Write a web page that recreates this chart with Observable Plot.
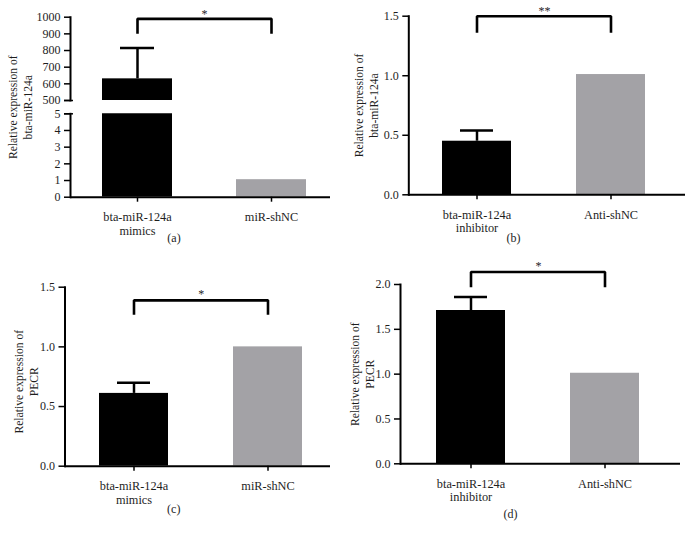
<!DOCTYPE html>
<html>
<head>
<meta charset="utf-8">
<script src="https://cdn.jsdelivr.net/npm/d3@7"></script>
<script src="https://cdn.jsdelivr.net/npm/@observablehq/plot@0.6"></script>
<style>
  html, body { margin: 0; padding: 0; background: #fff; }
  #root { position: relative; width: 686px; height: 536px; overflow: hidden; background: #fff; }
  #root svg { position: absolute; }
</style>
</head>
<body>
<div id="root"></div>
<script>
// ---------- data ----------
const catsMimics = ["bta-miR-124a mimics", "miR-shNC"];
const catsInhibitor = ["bta-miR-124a inhibitor", "Anti-shNC"];
const barColors = ["#000000", "#a3a2a6"];

// (a) bta-miR-124a, mimics vs miR-shNC (broken axis)
const meanA = [630, 1.05];
const errA = [185, 0];
// (b) bta-miR-124a, inhibitor vs Anti-shNC
const meanB = [0.45, 1.01];
const errB = [0.09, 0];
// (c) PECR, mimics vs miR-shNC
const meanC = [0.61, 1.0];
const errC = [0.09, 0];
// (d) PECR, inhibitor vs Anti-shNC
const meanD = [1.71, 1.01];
const errD = [0.15, 0];

const sigLabels = ["*", "**", "*", "*"];
const bracketTop = [990, 1.5, 1.39, 2.14];
const bracketLeg = [900, 1.36, 1.27, 1.97];

const ticksAUpper = [500, 600, 700, 800, 900, 1000];
const ticksALower = [0, 1, 2, 3, 4, 5];
const ticks15 = [0, 0.5, 1.0, 1.5];
const ticks20 = [0, 0.5, 1.0, 1.5, 2.0];

const titleMiR = "Relative expression of\nbta-miR-124a";
const titlePECR = "Relative expression of\nPECR";
const panelLabels = ["(a)", "(b)", "(c)", "(d)"];

// ---------- helpers ----------
const FONT = "Liberation Serif, Times New Roman, serif";
const TXT = "#1e1e1e";
const root = document.getElementById("root");

function makePlot(cfg) {
  const rows = cfg.cats.map((c, i) => ({cat: c, v: cfg.mean[i], e: cfg.err[i]}));
  const withErr = rows.filter(d => d.e > 0);
  const xOpts = {type: "band", domain: cfg.cats, range: cfg.xRange, paddingInner: cfg.pad, paddingOuter: 0, align: 0.5, axis: null};
  const sx = Plot.scale({x: xOpts});
  const halfStep = (sx.apply(cfg.cats[1]) - sx.apply(cfg.cats[0])) / 2;
  const marks = [];
  marks.push(Plot.barY(rows, {x: "cat", y: "v", fill: "cat", clip: true}));
  if (cfg.errors) {
    marks.push(Plot.ruleX(withErr, {x: "cat", y1: "v", y2: d => d.v + d.e, stroke: "#000", strokeWidth: 2.5}));
    marks.push(Plot.tickY(withErr, {x: "cat", y: d => d.v + d.e, stroke: "#000", strokeWidth: 2.5, insetLeft: 18, insetRight: 18}));
  }
  marks.push(Plot.frame({anchor: "left", stroke: "#000", strokeWidth: 2}));
  marks.push(Plot.axisY({ticks: cfg.yTicks, tickFormat: cfg.yFmt, tickSize: 6, tickPadding: 4, fontSize: 12, label: null, stroke: "#000", strokeWidth: 1.5, fill: TXT}));
  if (cfg.breakTick !== undefined) {
    marks.push(Plot.axisY({ticks: [cfg.breakTick], tickFormat: () => "", tickSize: 9, dx: 3, label: null, stroke: "#000", strokeWidth: 1.5}));
  }
  if (cfg.xAxis) {
    marks.push(Plot.ruleY([cfg.yDomain[0]], {stroke: "#000", strokeWidth: 2}));
    marks.push(Plot.axisX({tickSize: 5, tickPadding: 9.5, tickFormat: d => d.replace(" ", "\n"), fontSize: 12.3, lineHeight: 1.1, label: null, stroke: "#000", strokeWidth: 1.5, fill: TXT}));
  }
  if (cfg.sig !== undefined) {
    const c0 = cfg.cats[0], c1 = cfg.cats[1];
    const pts = [
      {x: c0, y: cfg.bLeg}, {x: c0, y: cfg.bTop}, {x: c1, y: cfg.bTop}, {x: c1, y: cfg.bLeg}
    ];
    marks.push(Plot.line(pts, {x: "x", y: "y", stroke: "#000", strokeWidth: 2.6, strokeLinejoin: "miter", strokeLinecap: "butt"}));
    marks.push(Plot.text([cfg.sig], {x: () => c0, y: () => cfg.bTop, text: d => d, dx: halfStep, dy: cfg.sigDy, fontSize: 12, fill: TXT}));
  }
  if (cfg.title) {
    marks.push(Plot.text([cfg.title], {frameAnchor: "left", text: d => d, rotate: -90, textAnchor: "middle", lineAnchor: "middle", lineHeight: 1.3, dx: cfg.titleDx, dy: cfg.titleDy || 0, fontSize: 11.6, fill: TXT}));
  }
  if (cfg.label) {
    marks.push(Plot.text([cfg.label], {frameAnchor: "bottom", text: d => d, lineAnchor: "middle", textAnchor: "middle", dx: cfg.labelDx, dy: cfg.labelDy, fontSize: 12, fill: TXT}));
  }
  const svg = Plot.plot({
    width: cfg.width, height: cfg.height,
    marginLeft: cfg.marginLeft, marginRight: cfg.marginRight,
    marginTop: cfg.marginTop, marginBottom: cfg.marginBottom,
    x: xOpts,
    y: {domain: cfg.yDomain, axis: null},
    color: {domain: cfg.cats, range: barColors},
    style: {background: "transparent", fontFamily: FONT, color: "#000", overflow: "visible"},
    marks
  });
  svg.style.left = cfg.left + "px";
  svg.style.top = cfg.top + "px";
  root.appendChild(svg);
}

const intFmt = d3.format("d");
const oneFmt = d3.format(".1f");

// (a) upper part 500-1000
makePlot({
  left: 0, top: 0, width: 340, height: 110,
  marginLeft: 70, marginRight: 10, marginTop: 16.7, marginBottom: 10,
  xRange: [101.7, 305.7], pad: 0.478,
  cats: catsMimics, mean: meanA, err: errA, errors: true,
  yDomain: [500, 1000], yTicks: ticksAUpper, yFmt: intFmt, breakTick: 500,
  xAxis: false,
  sig: sigLabels[0], bTop: bracketTop[0], bLeg: bracketLeg[0], sigDy: -5
});
// (a) lower part 0-5
makePlot({
  left: 0, top: 0, width: 340, height: 250,
  marginLeft: 70, marginRight: 10, marginTop: 113.3, marginBottom: 53.3,
  xRange: [101.7, 305.7], pad: 0.478,
  cats: catsMimics, mean: meanA, err: errA, errors: false,
  yDomain: [0, 5], yTicks: ticksALower, yFmt: intFmt, breakTick: 5,
  xAxis: true,
  title: titleMiR, titleDx: -50.5, titleDy: -48.3,
  label: panelLabels[0], labelDx: -26.5, labelDy: 41.3
});
// (b)
makePlot({
  left: 340, top: 0, width: 346, height: 250,
  marginLeft: 68.3, marginRight: 1, marginTop: 15.7, marginBottom: 55.7,
  xRange: [101.7, 306], pad: 0.485,
  cats: catsInhibitor, mean: meanB, err: errB, errors: true,
  yDomain: [0, 1.5], yTicks: ticks15, yFmt: oneFmt,
  xAxis: true,
  sig: sigLabels[1], bTop: bracketTop[1], bLeg: bracketLeg[1], sigDy: -5,
  title: titleMiR, titleDx: -43.3, titleDy: 0,
  label: panelLabels[1], labelDx: -33.7, labelDy: 43.7
});
// (c)
makePlot({
  left: 0, top: 270, width: 340, height: 266,
  marginLeft: 64.5, marginRight: 10, marginTop: 16.7, marginBottom: 70.3,
  xRange: [98.3, 302.7], pad: 0.483,
  cats: catsMimics, mean: meanC, err: errC, errors: true,
  yDomain: [0, 1.5], yTicks: ticks15, yFmt: oneFmt,
  xAxis: true,
  sig: sigLabels[2], bTop: bracketTop[2], bLeg: bracketLeg[2], sigDy: -6,
  title: titlePECR, titleDx: -39.5, titleDy: 5,
  label: panelLabels[2], labelDx: -24, labelDy: 42.6
});
// (d)
makePlot({
  left: 340, top: 240, width: 346, height: 296,
  marginLeft: 60, marginRight: 6, marginTop: 44, marginBottom: 72.7,
  xRange: [95, 299.3], pad: 0.484,
  cats: catsInhibitor, mean: meanD, err: errD, errors: true,
  yDomain: [0, 2], yTicks: ticks20, yFmt: oneFmt,
  xAxis: true,
  sig: sigLabels[3], bTop: bracketTop[3], bLeg: bracketLeg[3], sigDy: -6,
  title: titlePECR, titleDx: -39.2, titleDy: 0,
  label: panelLabels[3], labelDx: -30, labelDy: 50
});
</script>
</body>
</html>
